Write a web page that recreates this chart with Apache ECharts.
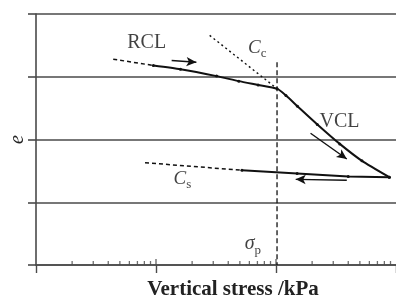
<!DOCTYPE html>
<html><head><meta charset="utf-8">
<script src="https://cdn.jsdelivr.net/npm/echarts@6/dist/echarts.min.js"></script>
<style>html,body{margin:0;padding:0;background:#fff}#c{width:396px;height:305px}</style>
</head><body><div id="c"></div>
<script>
// ---- data (stress in kPa on log axis, void ratio e) ----
const loadStress = [9.5, 16, 32, 49, 71, 102, 121, 151, 221, 340, 520, 880];
const loadE      = [3.18, 3.12, 3.01, 2.93, 2.87, 2.81, 2.70, 2.53, 2.24, 1.93, 1.66, 1.40];
const unloadStress = [880, 400, 150, 52];
const unloadE      = [1.40, 1.41, 1.46, 1.51];
const rclStress = [4.4, 9.5];
const rclE      = [3.28, 3.18];
const csStress = [8.1, 52];
const csE      = [1.63, 1.51];
const ccStress = [28, 102];
const ccE      = [3.66, 2.81];
const sigmaPStress = [102, 102];
const sigmaPE      = [3.23, 0];
// arrows: [fromStress, fromE, toStress, toE]
const arrowRCL = [13.5, 3.26, 21.7, 3.23];
const arrowVCL = [194, 2.10, 389, 1.69];
const arrowCs  = [389, 1.35, 146, 1.365];
// annotations
const annoMain   = ['RCL', 'C', 'VCL', 'C', 'σ'];
const annoSub    = ['', 'c', '', 's', 'p'];
const annoStress = [8.36, 69.9, 338, 16.6, 64.2];
const annoE      = [3.537, 3.435, 2.282, 1.349, 0.309];
// x-axis tick values
const minorTickValues = [2,3,4,5,6,7,8,9,20,30,40,50,60,70,80,90,200,300,400,500,600,700,800,900];
const majorTickValues = [10, 100];

const zip = (a, b) => a.map((v, i) => [v, b[i]]);
const SERIF = 'Liberation Serif';
const ink = '#111';
const gridCol = '#4a4a4a';

const arrow = a => [{coord: [a[0], a[1]]}, {coord: [a[2], a[3]]}];

const annoData = annoMain.map((m, i) => ({
  value: [annoStress[i], annoE[i]],
  label: {
    formatter: annoSub[i]
      ? (m === 'σ' ? '{g|' + m + '}{s|' + annoSub[i] + '}' : '{i|' + m + '}{s|' + annoSub[i] + '}')
      : '{n|' + m + '}'
  }
}));

const chart = echarts.init(document.getElementById('c'), null, {renderer: 'canvas'});
chart.setOption({
  animation: false,
  backgroundColor: '#fff',
  grid: {left: 34, right: -4, top: 14, bottom: 36},
  xAxis: {
    type: 'log', logBase: 10, min: 1, max: 1000,
    name: 'Vertical stress /kPa', nameLocation: 'middle', nameGap: 14,
    nameTextStyle: {fontFamily: SERIF, fontSize: 21, fontWeight: 'bold', color: '#222', padding: [0, 0, 0, 34]},
    axisLine: {show: true, lineStyle: {color: gridCol, width: 1.6}},
    axisTick: {show: true, inside: false, length: 8, lineStyle: {color: gridCol, width: 1.4}},
    axisLabel: {show: false},
    splitLine: {show: false},
    minorTick: {show: false}
  },
  yAxis: {
    type: 'value', min: 0, max: 4, interval: 1,
    name: 'e', nameLocation: 'middle', nameGap: 8, nameRotate: 90,
    nameTextStyle: {fontFamily: SERIF, fontSize: 20, fontStyle: 'italic', color: '#222'},
    axisLine: {show: true, lineStyle: {color: gridCol, width: 1.6}},
    axisTick: {show: true, inside: false, length: 8, lineStyle: {color: gridCol, width: 1.6}},
    axisLabel: {show: false},
    splitLine: {show: true, lineStyle: {color: gridCol, width: 1.6}}
  },
  series: [
    {type: 'line', data: zip(rclStress, rclE), symbol: 'none',
     lineStyle: {color: ink, width: 1.5, type: [4, 3]}, silent: true},
    {type: 'line', data: zip(ccStress, ccE), symbol: 'none',
     lineStyle: {color: ink, width: 1.4, type: [2, 3]}, silent: true},
    {type: 'line', data: zip(csStress, csE), symbol: 'none',
     lineStyle: {color: ink, width: 1.5, type: [4, 3]}, silent: true},
    {type: 'line', data: zip(sigmaPStress, sigmaPE), symbol: 'none',
     lineStyle: {color: ink, width: 1.3, type: [5, 3]}, silent: true},
    {type: 'line', data: zip(loadStress, loadE), smooth: 0.2,
     symbol: 'circle', symbolSize: 3, itemStyle: {color: ink},
     lineStyle: {color: ink, width: 2}, silent: true},
    {type: 'line', data: zip(unloadStress, unloadE),
     symbol: 'circle', symbolSize: 3, itemStyle: {color: ink},
     lineStyle: {color: ink, width: 2}, silent: true,
     markLine: {
       silent: true, symbol: ['none', 'arrow'], symbolSize: [7, 10],
       label: {show: false},
       lineStyle: {color: ink, width: 1.4, type: 'solid'},
       data: [arrow(arrowRCL), arrow(arrowVCL), arrow(arrowCs)]
     }},
    {type: 'scatter', data: minorTickValues.map(v => [v, 0]), clip: false,
     symbol: 'rect', symbolSize: [1.3, 4], symbolOffset: [0, -2],
     itemStyle: {color: gridCol}, silent: true},
    {type: 'scatter', data: majorTickValues.map(v => [v, 0]), clip: false,
     symbol: 'rect', symbolSize: [1.4, 6], symbolOffset: [0, -3],
     itemStyle: {color: gridCol}, silent: true},
    {type: 'scatter', data: annoData, symbolSize: 0, clip: false, silent: true,
     label: {
       show: true, position: 'inside', color: ink,
       rich: {
         n: {fontFamily: SERIF, fontSize: 20, color: ink},
         i: {fontFamily: SERIF, fontSize: 19, fontStyle: 'italic', color: ink, padding: [0, 0, 3, 0]},
         g: {fontFamily: SERIF, fontSize: 20, fontStyle: 'italic', color: ink, padding: [0, 0, 3, 0]},
         s: {fontFamily: SERIF, fontSize: 13, color: ink, verticalAlign: 'bottom'}
       }
     }}
  ]
});
</script></body></html>
